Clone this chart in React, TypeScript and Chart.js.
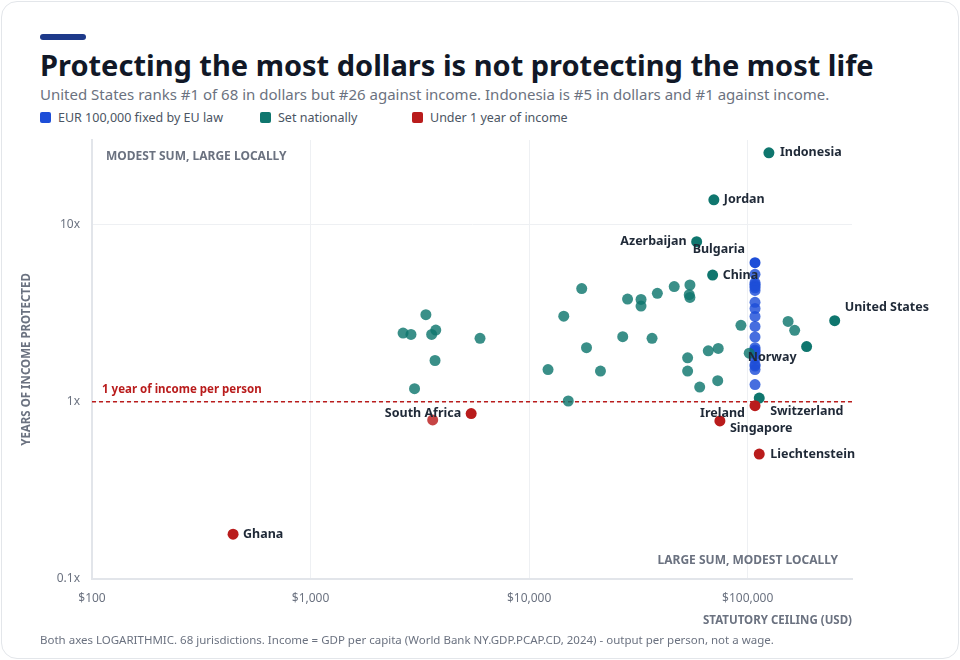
import React, { useEffect, useRef } from 'react';
import { Chart, registerables } from 'chart.js';

Chart.register(...registerables);

const FONT = '"Noto Sans", "Open Sans", Arial, sans-serif';

// Legend groups
const groupLabels = ['EUR 100,000 fixed by EU law', 'Set nationally', 'Under 1 year of income'];
const groupColors = ['#1d4ed8', '#0f766e', '#b91c1c'];
const groupFaded = ['rgba(29,78,216,0.82)', 'rgba(15,118,110,0.82)', 'rgba(185,28,28,0.82)'];

// Jurisdictions called out by name (group index: 0 EU, 1 national, 2 under 1 year)
const namedCountries = ['Indonesia', 'Jordan', 'Azerbaijan', 'Bulgaria', 'China', 'United States', 'Norway', 'Switzerland', 'Ireland', 'Singapore', 'Liechtenstein', 'South Africa', 'Ghana'];
const namedCeilingUsd = [125000, 70000, 58400, 108000, 69100, 250000, 186000, 112900, 108000, 74600, 112900, 5430, 442];
const namedYears = [25.4, 13.8, 8.0, 6.09, 5.19, 2.87, 2.05, 1.05, 0.95, 0.78, 0.507, 0.858, 0.179];
const namedGroup = [1, 1, 1, 0, 1, 1, 1, 1, 2, 2, 2, 2, 2];

// Other EU members: EUR 100,000 in USD
const euCeilingUsd = 108000;
const euYears = [5.24, 4.7, 4.6, 4.5, 4.4, 4.25, 3.64, 3.36, 3.03, 2.66, 2.32, 2.02, 1.96, 1.92, 1.85, 1.75, 1.62, 1.59, 1.52, 1.25];

// Other nationally set ceilings
const nationalCeilingUsd = [3370, 2650, 2880, 3580, 3740, 5960, 3710, 2990, 17400, 28200, 32500, 32500, 38600, 14400, 26800, 36500, 18300, 12200, 21200, 15100, 46100, 54400, 54000, 54400, 93100, 73300, 66000, 53100, 101600, 53100, 72900, 60300, 153000, 164000];
const nationalYears = [3.1, 2.44, 2.4, 2.4, 2.54, 2.28, 1.71, 1.185, 4.35, 3.8, 3.78, 3.47, 4.09, 3.04, 2.33, 2.28, 2.02, 1.52, 1.49, 1.01, 4.47, 4.56, 4.02, 3.88, 2.7, 2.0, 1.94, 1.77, 1.88, 1.49, 1.315, 1.21, 2.84, 2.53];

// Other ceilings below one year of income
const underCeilingUsd = [3620];
const underYears = [0.79];

// Axis ticks
const xTickValues = [100, 1000, 10000, 100000];
const yTickValues = [0.1, 1, 10];

// Where each name sits relative to its point
const labelPlacement: Record<string, { dx: number; dy: number; align: CanvasTextAlign }> = {
  Indonesia: { dx: 11, dy: 0, align: 'left' },
  Jordan: { dx: 10, dy: 0, align: 'left' },
  Azerbaijan: { dx: -10, dy: 0, align: 'right' },
  Bulgaria: { dx: -10, dy: -13, align: 'right' },
  China: { dx: 10, dy: 0, align: 'left' },
  'United States': { dx: 10, dy: -13, align: 'left' },
  Norway: { dx: -10, dy: 11, align: 'right' },
  Switzerland: { dx: 11, dy: 13, align: 'left' },
  Ireland: { dx: -10, dy: 8, align: 'right' },
  Singapore: { dx: 10, dy: 8, align: 'left' },
  Liechtenstein: { dx: 11, dy: 0, align: 'left' },
  'South Africa': { dx: -10, dy: 0, align: 'right' },
  Ghana: { dx: 10, dy: 0, align: 'left' },
};

type Pt = { x: number; y: number; name?: string };

function buildGroup(g: number): Pt[] {
  const pts: Pt[] = [];
  if (g === 0) euYears.forEach((y) => pts.push({ x: euCeilingUsd, y }));
  if (g === 1) nationalYears.forEach((y, i) => pts.push({ x: nationalCeilingUsd[i], y }));
  if (g === 2) underYears.forEach((y, i) => pts.push({ x: underCeilingUsd[i], y }));
  namedCountries.forEach((name, i) => {
    if (namedGroup[i] === g) pts.push({ x: namedCeilingUsd[i], y: namedYears[i], name });
  });
  return pts;
}

const annotations = {
  id: 'annotations',
  beforeDatasetsDraw(chart: any) {
    const { ctx, chartArea, scales } = chart;
    const y1 = scales.y.getPixelForValue(1);
    ctx.save();
    ctx.strokeStyle = '#b91c1c';
    ctx.lineWidth = 1.5;
    ctx.setLineDash([4, 3]);
    ctx.beginPath();
    ctx.moveTo(chartArea.left, y1);
    ctx.lineTo(chartArea.right, y1);
    ctx.stroke();
    ctx.setLineDash([]);
    ctx.textBaseline = 'middle';
    ctx.font = `bold 11.5px ${FONT}`;
    ctx.fillStyle = '#b91c1c';
    ctx.textAlign = 'left';
    ctx.fillText('1 year of income per person', chartArea.left + 10, y1 - 12);
    ctx.font = `bold 12px ${FONT}`;
    ctx.fillStyle = '#6b7280';
    ctx.fillText('MODEST SUM, LARGE LOCALLY', chartArea.left + 14, chartArea.top + 17);
    ctx.textAlign = 'right';
    ctx.fillText('LARGE SUM, MODEST LOCALLY', chartArea.right - 14, chartArea.bottom - 18);
    ctx.restore();
  },
  afterDatasetsDraw(chart: any) {
    const { ctx, scales } = chart;
    ctx.save();
    ctx.font = `bold 12.5px ${FONT}`;
    ctx.textBaseline = 'middle';
    ctx.fillStyle = '#1f2937';
    namedCountries.forEach((name, i) => {
      const p = labelPlacement[name];
      const px = scales.x.getPixelForValue(namedCeilingUsd[i]);
      const py = scales.y.getPixelForValue(namedYears[i]);
      ctx.textAlign = p.align;
      ctx.fillText(name, px + p.dx, py + p.dy);
    });
    ctx.restore();
  },
};

function ScatterChart() {
  const ref = useRef<HTMLCanvasElement | null>(null);
  useEffect(() => {
    if (!ref.current) return;
    const datasets = [0, 1, 2].map((g) => ({
      label: groupLabels[g],
      data: buildGroup(g),
      pointRadius: 5.5,
      pointBorderWidth: 0,
      pointBackgroundColor: (c: any) => (c.raw && c.raw.name ? groupColors[g] : groupFaded[g]),
      order: 2 - g,
    }));
    const chart = new Chart(ref.current, {
      type: 'scatter',
      data: { datasets },
      options: {
        animation: false,
        responsive: false,
        devicePixelRatio: 1,
        events: [],
        layout: { autoPadding: false, padding: { top: 10, right: 108, left: 0, bottom: 0 } },
        plugins: { legend: { display: false }, tooltip: { enabled: false } },
        scales: {
          x: {
            type: 'logarithmic',
            min: 100,
            max: 300000,
            afterBuildTicks: (s: any) => {
              s.ticks = xTickValues.map((value) => ({ value }));
            },
            afterFit: (s: any) => {
              s.height = 61;
              s.paddingLeft = 0;
              s.paddingRight = 0;
            },
            ticks: {
              callback: (v: any) => '$' + Number(v).toLocaleString('en-US'),
              color: '#6b7280',
              font: { size: 12, family: FONT },
              padding: 12,
              maxRotation: 0,
              autoSkip: false,
            },
            grid: { color: '#eef0f3', drawTicks: false, lineWidth: 1 },
            border: { color: '#e2e5ea', width: 2 },
            title: {
              display: true,
              text: 'STATUTORY CEILING (USD)',
              align: 'end',
              color: '#6b7280',
              font: { size: 11.5, weight: 'bold', family: FONT },
              padding: { top: 0, bottom: 12 },
            },
          },
          y: {
            type: 'logarithmic',
            min: 0.1,
            max: 30,
            afterBuildTicks: (s: any) => {
              s.ticks = yTickValues.map((value) => ({ value }));
            },
            afterFit: (s: any) => {
              s.width = 92;
              s.paddingTop = 0;
              s.paddingBottom = 0;
            },
            ticks: {
              callback: (v: any) => String(v) + 'x',
              color: '#6b7280',
              font: { size: 12, family: FONT },
              padding: 12,
              autoSkip: false,
            },
            grid: { color: '#eef0f3', drawTicks: false, lineWidth: 1 },
            border: { color: '#e2e5ea', width: 2 },
            title: {
              display: true,
              text: 'YEARS OF INCOME PROTECTED',
              color: '#6b7280',
              font: { size: 11.5, weight: 'bold', family: FONT },
              padding: { top: 20, bottom: 0 },
            },
          },
        },
      } as any,
      plugins: [annotations],
    });
    return () => chart.destroy();
  }, []);
  return <canvas ref={ref} width={960} height={510} style={{ position: 'absolute', left: 0, top: 130, width: 960, height: 510 }} />;
}

export default function App() {
  useEffect(() => {
    document.body.style.margin = '0';
  }, []);
  const text: React.CSSProperties = { position: 'absolute', fontFamily: FONT, whiteSpace: 'nowrap', margin: 0 };
  return (
    <div style={{ position: 'relative', width: 960, height: 660, background: '#ffffff', overflow: 'hidden' }}>
      <div
        style={{
          position: 'absolute',
          left: 1,
          top: 1,
          width: 958,
          height: 658,
          boxSizing: 'border-box',
          border: '1px solid #e3e6ea',
          borderRadius: 16,
          background: '#ffffff',
        }}
      />
      <div style={{ position: 'absolute', left: 40, top: 34, width: 46, height: 6, borderRadius: 3, background: '#1e3a8a' }} />
      <div style={{ ...text, left: 40, top: 50, fontSize: 29, lineHeight: '29px', fontWeight: 700, color: '#111827' }}>
        Protecting the most dollars is not protecting the most life
      </div>
      <div style={{ ...text, left: 40, top: 87, fontSize: 15, lineHeight: '15px', color: '#6b7280' }}>
        United States ranks #1 of 68 in dollars but #26 against income. Indonesia is #5 in dollars and #1 against income.
      </div>
      {groupLabels.map((label, i) => {
        const lefts = [40, 260, 412];
        return (
          <div key={label} style={{ position: 'absolute', left: lefts[i], top: 112, height: 12 }}>
            <div style={{ position: 'absolute', left: 0, top: 0, width: 11, height: 11, borderRadius: 2, background: groupColors[i] }} />
            <div style={{ ...text, left: 18, top: -1, fontSize: 12.5, lineHeight: '13px', color: '#4b5563' }}>{label}</div>
          </div>
        );
      })}
      <ScatterChart />
      <div style={{ ...text, left: 40, top: 634, fontSize: 11.5, lineHeight: '12px', color: '#6b7280' }}>
        Both axes LOGARITHMIC. 68 jurisdictions. Income = GDP per capita (World Bank NY.GDP.PCAP.CD, 2024) - output per person, not a wage.
      </div>
    </div>
  );
}
